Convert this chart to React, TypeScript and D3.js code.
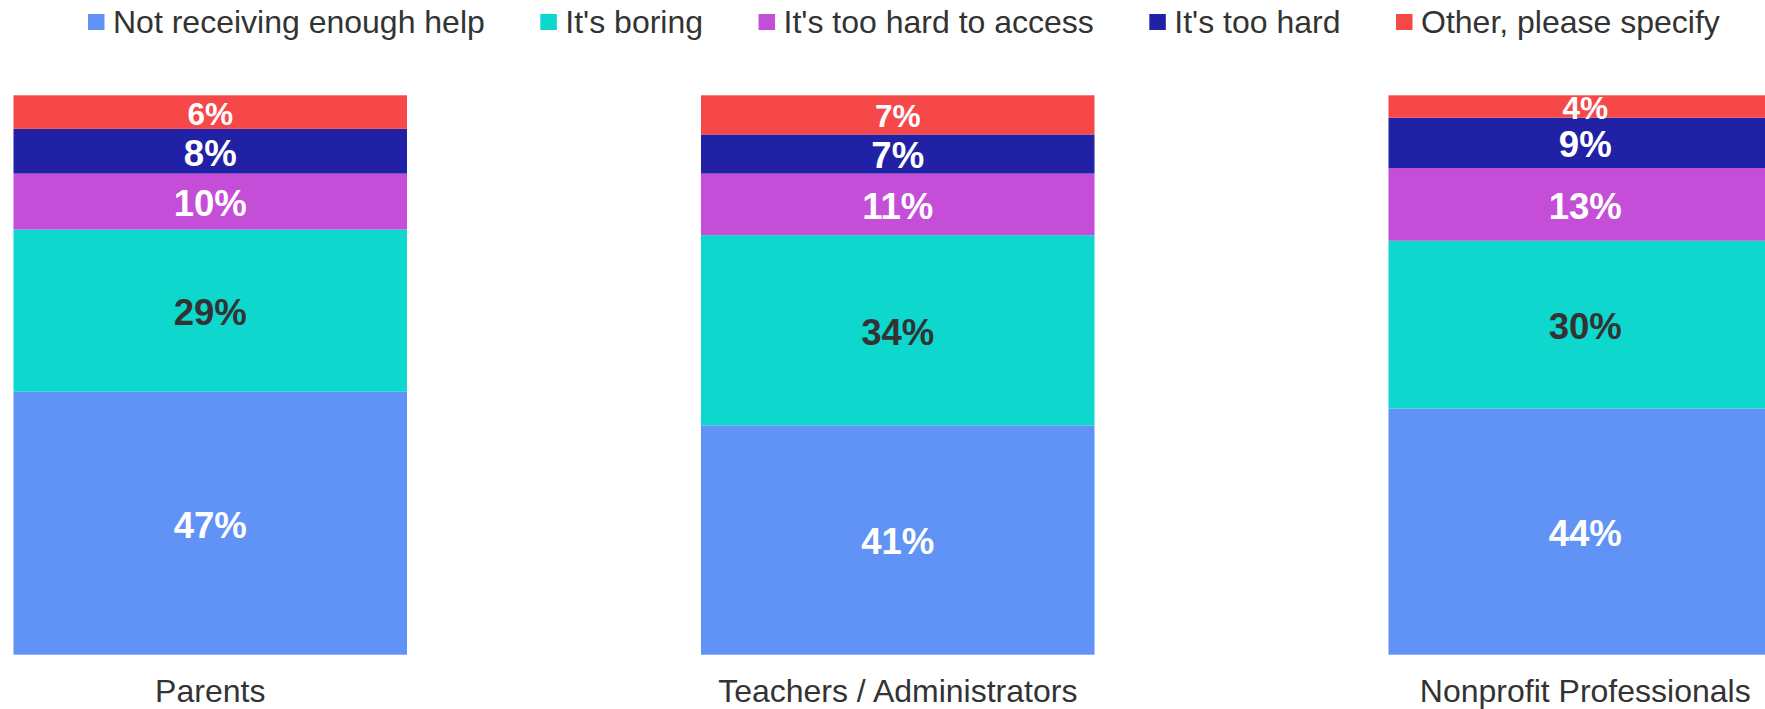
import React from "react";
import * as d3 from "d3";

const categories = ["Parents", "Teachers / Administrators", "Nonprofit Professionals"];
const seriesNames = [
  "Not receiving enough help",
  "It's boring",
  "It's too hard to access",
  "It's too hard",
  "Other, please specify",
];
const notEnoughHelp = [47, 41, 44];
const boring = [29, 34, 30];
const hardToAccess = [10, 11, 13];
const tooHard = [8, 7, 9];
const other = [6, 7, 4];

const seriesValues = [notEnoughHelp, boring, hardToAccess, tooHard, other];
const colors = ["#6193F6", "#0ED8CE", "#C44ED8", "#2121A5", "#F64848"];
const labelColors = ["#ffffff", "#333333", "#ffffff", "#ffffff", "#ffffff"];
const labelSizes = [36.6, 36.6, 36.6, 36.6, 31.6];

const W = 1765;
const H = 709;
const FONT = "'Liberation Sans', Arial, Helvetica, sans-serif";

function measure(text: string, size: number) {
  const c = document.createElement("canvas");
  const ctx = c.getContext("2d");
  if (!ctx) return text.length * size * 0.5;
  ctx.font = `${size}px 'Liberation Sans', Arial, sans-serif`;
  return ctx.measureText(text).width;
}

export default function App() {
  const rows = categories.map((c, i) => {
    const r: any = { cat: c };
    seriesNames.forEach((s, j) => (r[s] = seriesValues[j][i]));
    return r;
  });
  const stacked = d3.stack<any>().keys(seriesNames)(rows);

  const x = d3.scaleBand<string>().domain(categories).range([-133.5, 1929]).padding(0);
  const barW = x.bandwidth() * 0.5724;
  const y = d3.scaleLinear().domain([0, 100]).range([654.7, 95.3]);

  const legendFont = 32;
  let lx = 88;
  const legendItems = seriesNames.map((s, i) => {
    const w = measure(s, legendFont);
    const item = { name: s, color: colors[i], x: lx, w };
    lx += 16 + 8 + w + 56.5;
    return item;
  });

  return (
    <svg
      width={W}
      height={H}
      style={{ position: "absolute", left: 0, top: 0, background: "#fff" }}
      fontFamily={FONT}
    >
      <rect x={0} y={0} width={W} height={H} fill="#fff" />
      {legendItems.map((it) => (
        <g key={it.name}>
          <rect x={it.x} y={14} width={16.5} height={16} fill={it.color} />
          <text x={it.x + 25} y={33.3} fontSize={legendFont} fill="#333">
            {it.name}
          </text>
        </g>
      ))}
      {stacked.map((layer, j) => (
        <g key={layer.key}>
          {layer.map((d, i) => {
            const cx = (x(categories[i]) as number) + x.bandwidth() / 2;
            const y0 = y(d[1]);
            const y1 = y(d[0]);
            return (
              <g key={i}>
                <rect x={cx - barW / 2} y={y0} width={barW} height={y1 - y0} fill={colors[j]} />
              </g>
            );
          })}
        </g>
      ))}
      {stacked.map((layer, j) => (
        <g key={"l" + layer.key}>
          {layer.map((d, i) => {
            const cx = (x(categories[i]) as number) + x.bandwidth() / 2;
            const mid = (y(d[1]) + y(d[0])) / 2;
            const fs = labelSizes[j];
            return (
              <text
                key={i}
                x={cx}
                y={mid + 0.358 * fs + 1.2}
                textAnchor="middle"
                fontSize={fs}
                fontWeight="bold"
                fill={labelColors[j]}
              >
                {`${d[1] - d[0]}%`}
              </text>
            );
          })}
        </g>
      ))}
      {categories.map((c) => (
        <text
          key={c}
          x={(x(c) as number) + x.bandwidth() / 2}
          y={701.5}
          textAnchor="middle"
          fontSize={32}
          fill="#333"
        >
          {c}
        </text>
      ))}
    </svg>
  );
}
